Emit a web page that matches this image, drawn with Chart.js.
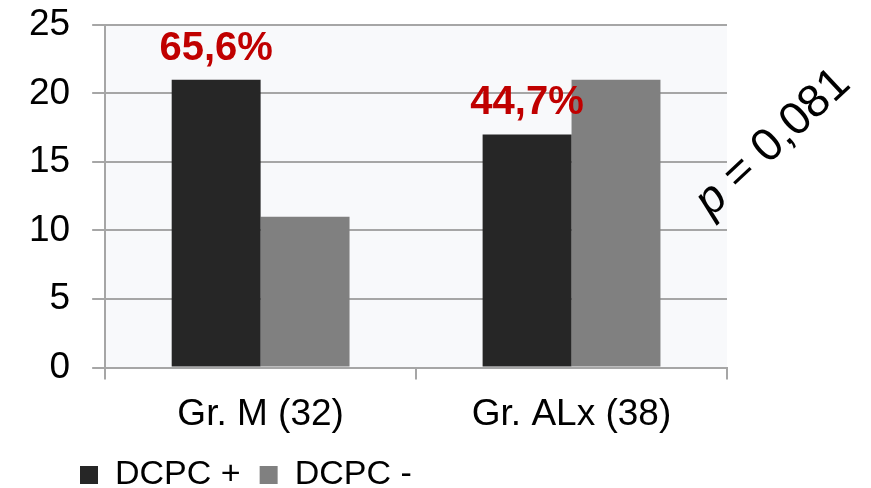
<!DOCTYPE html>
<html>
<head>
<meta charset="utf-8">
<script src="https://cdn.jsdelivr.net/npm/chart.js@4/dist/chart.umd.min.js"></script>
<style>
  html, body { margin: 0; padding: 0; background: #ffffff; }
  #wrap { width: 871px; height: 488px; }
</style>
</head>
<body>
<div id="wrap"><canvas id="c" width="871" height="488"></canvas></div>
<script>
// Group labels (with group size in parentheses)
const groups = ['Gr. M (32)', 'Gr. ALx (38)'];
// Counts per group
const dcpcPlus = [21, 17];
const dcpcMinus = [11, 21];
// Series names
const seriesNames = ['DCPC +', 'DCPC -'];
// Y axis tick values
const yTicks = [0, 5, 10, 15, 20, 25];
// Test result shown beside the plot
const pValueText = '0,081';

const FONT = "'Liberation Sans', Arial, sans-serif";

// Share of DCPC + within each group, written with a decimal comma
function shareLabel(i) {
  const pct = dcpcPlus[i] / (dcpcPlus[i] + dcpcMinus[i]) * 100;
  return pct.toFixed(1).replace('.', ',') + '%';
}

const plotBackground = {
  id: 'plotBackground',
  beforeDraw(chart) {
    const { ctx, chartArea: a } = chart;
    ctx.save();
    ctx.fillStyle = '#f8f9fb';
    ctx.fillRect(a.left, a.top, a.right - a.left, a.bottom - a.top);
    ctx.restore();
  }
};

// Moves the legend row so it lines up under the axis labels
const legendOffset = {
  id: 'legendOffset',
  afterLayout(chart) {
    const lg = chart.legend;
    if (!lg) return;
    const dx = 54, dy = -11;
    lg.left += dx; lg.right += dx;
    lg.top += dy; lg.bottom += dy;
  }
};

const shareLabels = {
  id: 'shareLabels',
  afterDatasetsDraw(chart) {
    const { ctx } = chart;
    const meta = chart.getDatasetMeta(0);
    ctx.save();
    ctx.font = 'bold 40px ' + FONT;
    ctx.fillStyle = '#c00000';
    ctx.textAlign = 'center';
    ctx.textBaseline = 'alphabetic';
    meta.data.forEach((bar, i) => {
      ctx.fillText(shareLabel(i), bar.x, bar.y - 20);
    });
    ctx.restore();
  }
};

const pValueNote = {
  id: 'pValueNote',
  afterDraw(chart) {
    const { ctx, chartArea: a } = chart;
    ctx.save();
    ctx.translate(a.right + 46, a.top + 118);
    ctx.rotate(-43 * Math.PI / 180);
    ctx.fillStyle = '#000000';
    ctx.textBaseline = 'middle';
    const pFont = 'italic 46px ' + FONT;
    const restFont = '46px ' + FONT;
    const rest = ' = ' + pValueText;
    ctx.font = pFont;
    const wp = ctx.measureText('p').width;
    ctx.font = restFont;
    const wr = ctx.measureText(rest).width;
    const x0 = -(wp + wr) / 2;
    ctx.font = pFont;
    ctx.textAlign = 'left';
    ctx.fillText('p', x0, 0);
    ctx.font = restFont;
    ctx.fillText(rest, x0 + wp, 0);
    ctx.restore();
  }
};

new Chart(document.getElementById('c'), {
  type: 'bar',
  data: {
    labels: groups,
    datasets: [
      { label: seriesNames[0], data: dcpcPlus, backgroundColor: '#262626', borderWidth: 0 },
      { label: seriesNames[1], data: dcpcMinus, backgroundColor: '#808080', borderWidth: 0 }
    ]
  },
  options: {
    responsive: false,
    animation: false,
    devicePixelRatio: 1,
    layout: { padding: { left: 7, right: 144, top: 0, bottom: -25 } },
    datasets: { bar: { barPercentage: 1.0, categoryPercentage: 0.572 } },
    plugins: {
      legend: {
        position: 'bottom',
        align: 'start',
        labels: {
          boxWidth: 18,
          boxHeight: 18,
          padding: 19,
          color: '#000000',
          font: { family: FONT, size: 34 }
        }
      },
      tooltip: { enabled: false }
    },
    scales: {
      x: {
        grid: {
          offset: true,
          drawOnChartArea: false,
          drawTicks: true,
          tickLength: 12,
          color: '#a6a6a6',
          lineWidth: 2
        },
        border: { display: true, color: '#a6a6a6', width: 2 },
        ticks: {
          color: '#000000',
          padding: 13,
          font: { family: FONT, size: 37 }
        }
      },
      y: {
        min: 0,
        max: 25,
        afterBuildTicks(axis) { axis.ticks = yTicks.map(v => ({ value: v })); },
        grid: {
          color: '#a6a6a6',
          lineWidth: 2,
          tickLength: 13
        },
        border: { display: true, color: '#a6a6a6', width: 2 },
        ticks: {
          color: '#000000',
          padding: 22,
          font: { family: FONT, size: 37, lineHeight: 0.15 }
        }
      }
    }
  },
  plugins: [plotBackground, legendOffset, shareLabels, pValueNote]
});
</script>
</body>
</html>
